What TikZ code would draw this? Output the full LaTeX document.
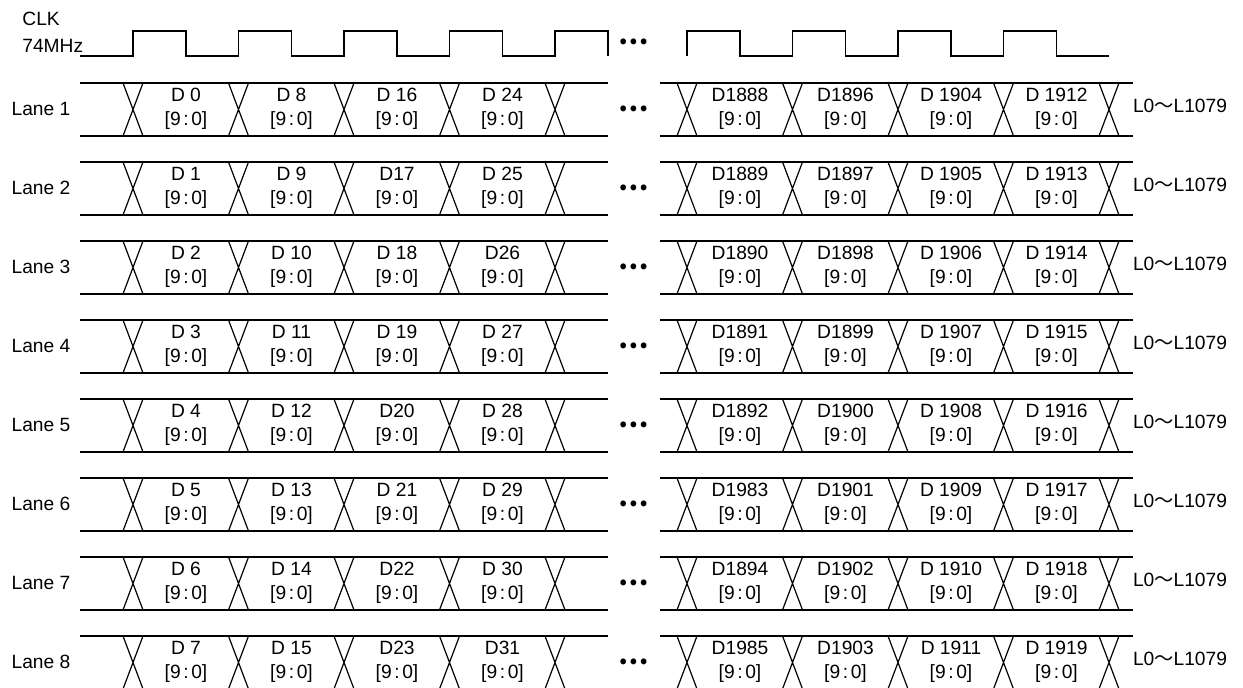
\documentclass[tikz,border=0pt]{standalone}
\usepackage{fontspec}
\setmainfont{Liberation Sans}
\newfontfamily\cjk{Noto Sans CJK JP}
\usepackage{tikz}
\usetikzlibrary{positioning}

\newcommand{\bitfield}{[9\kern1.3pt:\kern1.3pt0]}

\begin{document}
\begin{tikzpicture}[x=0.5pt, y=-0.5pt, every node/.style={inner sep=0pt},
  txt/.style={font=\fontsize{9.6}{12}\selectfont, align=center},
  gap/.style={font=\cjk\bfseries\fontsize{13.5}{13.5}\selectfont},
  sig/.style={line width=0.6pt}]
\useasboundingbox (0,0) rectangle (1243,688);
\node[txt, anchor=west] (clk) at (22,19) {CLK};
\node[txt, anchor=west] (freq) at (22,46) {74MHz};
\draw[sig] (80,56) \foreach \k in {0,...,4} {
  -- ({133+105.5*\k},56) -- ({133+105.5*\k},31)
  -- ({186+105.5*\k},31) -- ({186+105.5*\k},56)};
\draw[sig] (687,56) \foreach \k in {0,...,3} {
  -- ({687+105.5*\k},31) -- ({740+105.5*\k},31)
  -- ({740+105.5*\k},56) -- ({792.5+105.5*\k},56)};
\node[gap] (clkgap) at (634,42) {…};
\foreach \n/\la/\lb/\lc/\ld/\ra/\rb/\rc/\rd in {
  1/D 0/D 8/D 16/D 24/D1888/D1896/D 1904/D 1912,
  2/D 1/D 9/D17/D 25/D1889/D1897/D 1905/D 1913,
  3/D 2/D 10/D 18/D26/D1890/D1898/D 1906/D 1914,
  4/D 3/D 11/D 19/D 27/D1891/D1899/D 1907/D 1915,
  5/D 4/D 12/D20/D 28/D1892/D1900/D 1908/D 1916,
  6/D 5/D 13/D 21/D 29/D1983/D1901/D 1909/D 1917,
  7/D 6/D 14/D22/D 30/D1894/D1902/D 1910/D 1918,
  8/D 7/D 15/D23/D31/D1985/D1903/D 1911/D 1919} {
  \pgfmathsetmacro\ytop{83+79*(\n-1)}
  \pgfmathsetmacro\ybot{\ytop+53}
  \pgfmathsetmacro\ymid{\ytop+26}
  \node[txt] (lane\n) at (41,\ymid) {Lane \n};
  \node[gap] (gap\n) at (634,\ymid) {…};
  \node[txt] (range\n) at (1180,\ymid-3) {L0{\cjk ～}L1079};
  \draw[sig] (80,\ytop) -- (608,\ytop) (80,\ybot) -- (608,\ybot);
  \draw[sig] (660,\ytop) -- (1133,\ytop) (660,\ybot) -- (1133,\ybot);
  \foreach \c in {133,238.5,344,449.5,555,687,792.5,898,1003.5,1109}
    \draw[sig] ({\c-10},\ytop) -- ({\c+10},\ybot) ({\c+10},\ytop) -- ({\c-10},\ybot);
  \foreach \j/\t in {0/\la,1/\lb,2/\lc,3/\ld}
    \node[txt] (d\n-l\j) at ({186+105.5*\j},\ymid) {\t\\\bitfield};
  \foreach \j/\t in {0/\ra,1/\rb,2/\rc,3/\rd}
    \node[txt] (d\n-r\j) at ({740+105.5*\j},\ymid) {\t\\\bitfield};
}
\end{tikzpicture}
\end{document}
